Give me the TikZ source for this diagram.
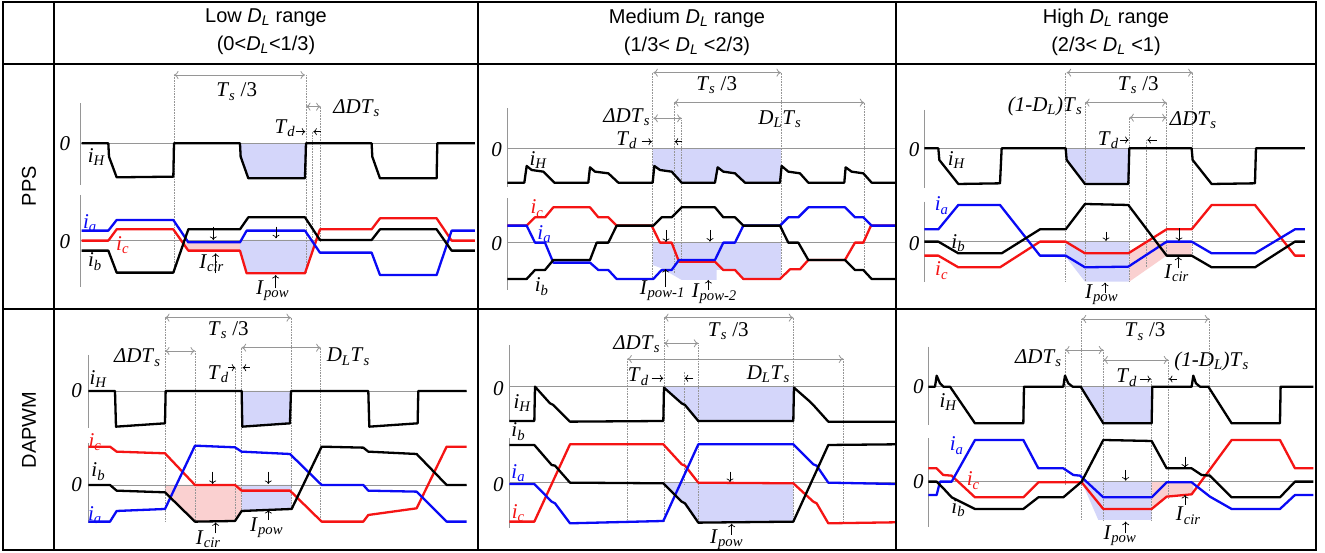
\documentclass[tikz,border=0pt]{standalone}
\usepackage{fontspec}
\setmainfont{Liberation Serif}
\newfontfamily\hdrfont{Liberation Sans}
\usetikzlibrary{arrows.meta}
\definecolor{wblue}{RGB}{10,10,245}
\definecolor{wred}{RGB}{245,20,20}
\definecolor{guidegray}{RGB}{150,150,150}
\definecolor{powshade}{RGB}{212,214,250}
\definecolor{cirshade}{RGB}{250,208,208}
\newcommand\sym[2]{\textit{#1}\textsubscript{\textit{#2}}}
\tikzset{
  frame/.style = {
    line width=2.2pt
  },
  wave/.style = {
    line width=2.3pt,
    line join=round
  },
  zeroline/.style = {
    line width=0.8pt,
    guidegray
  },
  guide/.style = {
    line width=0.6pt,
    guidegray,
    densely dotted
  },
  dimline/.style = {
    line width=0.8pt,
    guidegray,
    {To[length=4.5pt,width=8pt]}-{To[length=4.5pt,width=8pt]}
  },
  tick arrow/.style = {
    line width=0.7pt,
    -{To[length=3.5pt,width=7pt]}
  },
  powfill/.style = {
    fill=powshade
  },
  cirfill/.style = {
    fill=cirshade
  },
  header class/.style={
    every text node part/.style={
      align=center,
      font={\hdrfont\fontsize{20}{28}\selectfont}
    }
  },
  label class/.style={
    every text node part/.style={
      font={\fontsize{21}{23}\selectfont}
    }
  },
  cell/.style={
    x=0.3333pt,
    y=-0.3333pt,
    label class
  },
}

\begin{document}
\begin{tikzpicture}[x=1pt,y=-1pt]
  \useasboundingbox (0,0) rectangle (1325,553);
  \fill[white] (0,0) rectangle (1325,553);

  % headers
  \node[header class] (hlow) at (266,32) {Low \sym{D}{L} range\\(0<\sym{D}{L}<1/3)};
  \node[header class] (hmed) at (687,32) {Medium \sym{D}{L} range\\(1/3< \sym{D}{L} <2/3)};
  \node[header class] (hhigh) at (1106,32) {High \sym{D}{L} range\\(2/3< \sym{D}{L} <1)};
  \node[header class,rotate=90] (hpps) at (29,186) {PPS};
  \node[header class,rotate=90] (hdapwm) at (29,430) {DAPWM};

  %%%%% PPS, low
  \begin{scope}[shift={(50,60)},cell]
    \fill[powfill] (570,250) -- (572,290) -- (595,355) -- (765,355) -- (765,250) -- cycle;
    \fill[cirfill] (400,547) -- (570,547) -- (570,572) -- (415,572) -- cycle;
    \fill[powfill] (570,540) -- (570,572) -- (590,640) -- (765,640) -- (799,540) -- cycle;
    \draw[zeroline] (90,130) -- (90,375) (90,405) -- (90,680);
    \draw[zeroline] (90,250) -- (1275,250) (90,540) -- (1275,540);
    \foreach \x/\ya/\yb in {372/45/620, 768/45/640, 788/215/545, 812/140/545}
      \draw[guide] (\x,\ya) -- (\x,\yb);
    \draw[wave] plot coordinates {(95,250) (175,250) (177,290) (200,352) (370,350) (372,250) (570,250) (572,290) (595,355) (765,355) (768,250) (965,250) (967,290) (990,355) (1160,355) (1162,250) (1275,250)};
    \draw[wave,wred] plot coordinates {(95,542) (175,542) (200,508) (370,508) (415,572) (570,572) (590,640) (765,640) (810,508) (965,508) (990,475) (1160,475) (1205,542) (1275,542)};
    \draw[wave,wblue] plot coordinates {(95,512) (175,512) (200,480) (370,480) (415,547) (570,547) (590,512) (765,512) (810,578) (965,578) (990,645) (1160,645) (1205,512) (1275,512)};
    \draw[wave] plot coordinates {(95,572) (175,572) (200,638) (370,638) (415,508) (570,508) (595,472) (765,472) (810,540) (965,540) (990,508) (1160,508) (1205,572) (1275,572)};
    \draw[dimline] (372,45) -- (765,45);
    \draw[dimline] (768,140) -- (812,140);
    \draw[tick arrow] (738,215) -- (766,215);
    \draw[tick arrow] (812,215) -- (790,215);
    \draw[tick arrow] (490,500) -- (490,540);
    \draw[tick arrow] (678,500) -- (678,535);
    \draw[tick arrow] (497,640) -- (497,580);
    \draw[tick arrow] (677,685) -- (677,645);
    \node (c1za) at (45,250) {\textit{0}};
    \node (c1zb) at (45,545) {\textit{0}};
    \node (c1ih) at (140,292) {\sym{i}{H}};
    \node[wblue] (c1ia) at (120,490) {\sym{i}{a}};
    \node[wred] (c1ic) at (218,555) {\sym{i}{c}};
    \node (c1ib) at (135,605) {\sym{i}{b}};
    \node (c1ts) at (560,95) {\sym{T}{s} /3};
    \node (c1dd) at (920,145) {\sym{ΔDT}{s}};
    \node (c1td) at (705,205) {\sym{T}{d}};
    \node (c1cir) at (485,610) {\sym{I}{cir}};
    \node (c1pow) at (668,692) {\sym{I}{pow}};
  \end{scope}

  %%%%% PPS, medium
  \begin{scope}[shift={(475,60)},cell]
    \fill[powfill] (533,265) -- (533,368) -- (538,318) -- (555,330) -- (590,335) -- (620,368) -- (720,368) -- (728,322) -- (745,335) -- (780,340) -- (810,368) -- (918,368) -- (918,265) -- cycle;
    \fill[powfill] (533,548) -- (533,615) -- (560,625) -- (620,660) -- (725,660) -- (725,630) -- (780,630) -- (805,657) -- (918,657) -- (918,548) -- cycle;
    \draw[zeroline] (97,145) -- (97,380) (97,415) -- (97,690);
    \draw[zeroline] (97,265) -- (1260,265) (97,548) -- (1260,548);
    \foreach \x/\ya/\yb in {533/38/660, 597/128/640, 620/175/600, 918/38/657, 1168/128/640}
      \draw[guide] (\x,\ya) -- (\x,\yb);
    \draw[wave] plot coordinates {(97,368) (148,368) (155,318) (170,330) (205,335) (238,368) (340,368) (345,322) (360,335) (400,340) (430,368) (533,368) (538,318) (555,330) (590,335) (620,368) (720,368) (728,322) (745,335) (780,340) (810,368) (915,368) (920,318) (940,335) (975,340) (1000,368) (1108,368) (1112,322) (1130,335) (1165,340) (1190,368) (1260,368)};
    \draw[wave,wred] plot coordinates {(97,497) (155,497) (180,472) (210,472) (235,442) (345,442) (370,472) (400,472) (425,497) (530,497) (555,548) (590,548) (612,605) (720,605) (745,630) (780,630) (805,657) (915,657) (945,628) (975,628) (1000,600) (1110,600) (1140,548) (1165,548) (1188,497) (1260,497)};
    \draw[wave,wblue] plot coordinates {(97,497) (155,497) (180,548) (210,548) (235,608) (345,608) (370,630) (400,630) (425,657) (535,657) (560,630) (590,630) (612,600) (720,600) (745,548) (780,548) (805,497) (915,497) (940,472) (970,472) (1000,442) (1110,442) (1140,472) (1165,472) (1190,497) (1260,497)};
    \draw[wave] plot coordinates {(97,657) (155,657) (180,630) (210,630) (235,600) (345,600) (365,548) (400,548) (425,497) (535,497) (560,472) (590,472) (620,442) (720,442) (745,472) (780,472) (805,497) (915,497) (940,548) (970,548) (1000,600) (1110,600) (1140,630) (1165,630) (1190,657) (1260,657)};
    \draw[dimline] (535,38) -- (918,38);
    \draw[dimline] (597,128) -- (1168,128);
    \draw[dimline] (535,175) -- (620,175);
    \draw[tick arrow] (500,245) -- (531,245);
    \draw[tick arrow] (622,245) -- (599,245);
    \draw[tick arrow] (573,510) -- (573,546);
    \draw[tick arrow] (705,510) -- (705,545);
    \draw[tick arrow] (572,680) -- (572,627);
    \draw[tick arrow] (700,690) -- (700,660);
    \node (c2za) at (65,268) {\textit{0}};
    \node (c2zb) at (65,550) {\textit{0}};
    \node (c2ih) at (190,300) {\sym{i}{H}};
    \node[wred] (c2ic) at (186,446) {\sym{i}{c}};
    \node[wblue] (c2ia) at (208,522) {\sym{i}{a}};
    \node (c2ib) at (200,680) {\sym{i}{b}};
    \node (c2ts) at (725,75) {\sym{T}{s} /3};
    \node (c2dl) at (915,178) {\sym{D}{L}\sym{T}{s}};
    \node (c2dd) at (455,172) {\sym{ΔDT}{s}};
    \node (c2td) at (455,240) {\sym{T}{d}};
    \node (c2pa) at (562,692) {\sym{I}{pow-1}};
    \node (c2pb) at (718,700) {\sym{I}{pow-2}};
  \end{scope}

  %%%%% PPS, high
  \begin{scope}[shift={(890,60)},cell]
    \fill[powfill] (527,265) -- (530,300) -- (585,372) -- (715,372) -- (718,265) -- cycle;
    \fill[powfill] (527,545) -- (718,545) -- (718,665) -- (585,665) -- (527,590) -- cycle;
    \fill[cirfill] (718,580) -- (770,545) -- (905,545) -- (905,587) -- (830,587) -- (718,665) -- cycle;
    \draw[zeroline] (103,150) -- (103,385) (103,425) -- (103,665);
    \draw[zeroline] (103,265) -- (1245,265) (103,545) -- (1245,545);
    \foreach \x/\ya/\yb in {527/38/665, 585/128/665, 718/173/665, 770/240/620, 830/128/587, 908/38/587}
      \draw[guide] (\x,\ya) -- (\x,\yb);
    \draw[wave] plot coordinates {(103,265) (145,265) (148,300) (205,372) (330,370) (335,265) (527,265) (530,300) (585,372) (715,372) (718,265) (905,265) (908,300) (965,372) (1095,370) (1098,265) (1245,265)};
    \draw[wave,wred] plot coordinates {(103,587) (145,587) (205,622) (330,622) (450,545) (527,545) (585,580) (715,580) (830,508) (905,508) (965,435) (1095,435) (1215,587) (1245,587)};
    \draw[wave,wblue] plot coordinates {(103,508) (145,508) (205,435) (330,435) (450,587) (527,587) (585,622) (715,620) (830,545) (905,545) (965,580) (1095,580) (1215,508) (1245,508)};
    \draw[wave] plot coordinates {(103,545) (145,545) (205,580) (335,580) (450,508) (527,508) (585,432) (715,435) (830,587) (905,587) (965,622) (1095,622) (1215,545) (1245,545)};
    \draw[dimline] (530,38) -- (908,38);
    \draw[dimline] (585,128) -- (830,128);
    \draw[dimline] (718,173) -- (830,173);
    \draw[tick arrow] (690,240) -- (716,240);
    \draw[tick arrow] (800,240) -- (772,240);
    \draw[tick arrow] (648,515) -- (648,543);
    \draw[tick arrow] (867,505) -- (867,543);
    \draw[tick arrow] (645,700) -- (645,668);
    \draw[tick arrow] (865,625) -- (865,590);
    \node (c3za) at (72,268) {\textit{0}};
    \node (c3zb) at (72,550) {\textit{0}};
    \node (c3ih) at (200,300) {\sym{i}{H}};
    \node[wblue] (c3ia) at (155,437) {\sym{i}{a}};
    \node (c3ib) at (205,550) {\sym{i}{b}};
    \node[wred] (c3ic) at (155,632) {\sym{i}{c}};
    \node (c3ts) at (745,75) {\sym{T}{s} /3};
    \node (c3dl) at (465,138) {\textit{(1-D}\textsubscript{\textit{L}}\textit{)}\sym{T}{s}};
    \node (c3dd) at (910,180) {\sym{ΔDT}{s}};
    \node (c3td) at (655,240) {\sym{T}{d}};
    \node (c3pow) at (635,705) {\sym{I}{pow}};
    \node (c3cir) at (860,640) {\sym{I}{cir}};
  \end{scope}

  %%%%% DAPWM, low
  \begin{scope}[shift={(50,305)},cell]
    \fill[powfill] (577,258) -- (577,365) -- (720,355) -- (723,258) -- cycle;
    \fill[cirfill] (345,540) -- (575,540) -- (575,620) -- (555,648) -- (435,650) -- (345,560) -- cycle;
    \fill[powfill] (575,540) -- (725,540) -- (725,612) -- (575,618) -- cycle;
    \draw[zeroline] (115,150) -- (115,370) (115,415) -- (115,655);
    \draw[zeroline] (115,258) -- (1250,258) (115,540) -- (1250,540);
    \foreach \x/\ya/\yb in {345/38/650, 435/138/650, 557/188/650, 575/128/620, 723/38/612, 812/128/650}
      \draw[guide] (\x,\ya) -- (\x,\yb);
    \draw[wave] plot coordinates {(115,258) (195,258) (198,365) (345,355) (347,258) (575,258) (577,365) (720,355) (723,258) (955,258) (958,365) (1103,355) (1105,258) (1250,258)};
    \draw[wave,wred] plot coordinates {(115,425) (180,425) (200,440) (345,445) (435,540) (555,540) (575,557) (720,557) (815,650) (940,650) (955,630) (1100,610) (1190,425) (1250,425)};
    \draw[wave,wblue] plot coordinates {(115,650) (180,650) (200,618) (345,612) (435,422) (555,427) (575,440) (720,447) (815,540) (940,540) (955,557) (1100,560) (1190,650) (1250,650)};
    \draw[wave] plot coordinates {(115,540) (180,540) (200,557) (345,562) (435,650) (555,648) (575,618) (725,612) (815,425) (940,428) (955,440) (1100,447) (1190,540) (1250,540)};
    \draw[dimline] (345,38) -- (723,38);
    \draw[dimline] (345,138) -- (435,138);
    \draw[dimline] (575,128) -- (812,128);
    \draw[tick arrow] (535,188) -- (556,188);
    \draw[tick arrow] (600,188) -- (578,188);
    \draw[tick arrow] (488,500) -- (488,537);
    \draw[tick arrow] (655,500) -- (655,537);
    \draw[tick arrow] (497,685) -- (497,652);
    \draw[tick arrow] (655,645) -- (655,615);
    \node (c4za) at (80,258) {\textit{0}};
    \node (c4zb) at (80,540) {\textit{0}};
    \node (c4ih) at (145,222) {\sym{i}{H}};
    \node[wred] (c4ic) at (135,412) {\sym{i}{c}};
    \node (c4ib) at (145,500) {\sym{i}{b}};
    \node[wblue] (c4ia) at (135,630) {\sym{i}{a}};
    \node (c4ts) at (535,75) {\sym{T}{s} /3};
    \node (c4dd) at (262,158) {\sym{ΔDT}{s}};
    \node (c4dl) at (895,155) {\sym{D}{L}\sym{T}{s}};
    \node (c4td) at (505,208) {\sym{T}{d}};
    \node (c4cir) at (475,702) {\sym{I}{cir}};
    \node (c4pow) at (650,668) {\sym{I}{pow}};
  \end{scope}

  %%%%% DAPWM, medium
  \begin{scope}[shift={(475,305)},cell]
    \fill[powfill] (567,245) -- (955,245) -- (955,348) -- (670,348) -- (630,300) -- (620,295) -- (567,248) -- cycle;
    \fill[powfill] (565,533) -- (955,533) -- (955,650) -- (670,653) -- (620,590) -- (565,535) -- cycle;
    \draw[zeroline] (103,120) -- (103,350) (103,400) -- (103,670);
    \draw[zeroline] (103,245) -- (1260,245) (103,533) -- (1260,533);
    \foreach \x/\ya/\yb in {457/162/650, 567/38/650, 627/200/540, 670/115/653, 955/38/650, 1105/162/655}
      \draw[guide] (\x,\ya) -- (\x,\yb);
    \draw[wave] plot coordinates {(103,348) (178,348) (180,245) (225,295) (235,300) (285,350) (565,348) (567,248) (620,295) (630,300) (670,348) (955,348) (957,248) (1005,290) (1015,300) (1060,350) (1260,350)};
    \draw[wave,wred] plot coordinates {(103,650) (178,650) (285,418) (565,418) (620,478) (630,482) (670,533) (955,535) (1015,590) (1025,595) (1060,655) (1260,652)};
    \draw[wave,wblue] plot coordinates {(103,537) (178,537) (230,590) (240,595) (285,655) (565,648) (670,418) (955,418) (1015,478) (1025,482) (1060,533) (1260,537)};
    \draw[wave] plot coordinates {(103,420) (178,420) (230,480) (240,482) (285,533) (565,535) (620,590) (630,595) (670,653) (955,650) (1060,420) (1260,418)};
    \draw[dimline] (567,38) -- (955,38);
    \draw[dimline] (567,115) -- (670,115);
    \draw[dimline] (457,162) -- (1105,162);
    \draw[tick arrow] (530,220) -- (565,220);
    \draw[tick arrow] (655,220) -- (629,220);
    \draw[tick arrow] (765,500) -- (765,531);
    \draw[tick arrow] (770,690) -- (770,656);
    \node (c5za) at (70,250) {\textit{0}};
    \node (c5zb) at (70,540) {\textit{0}};
    \node (c5ih) at (142,295) {\sym{i}{H}};
    \node (c5ib) at (130,380) {\sym{i}{b}};
    \node[wblue] (c5ia) at (130,505) {\sym{i}{a}};
    \node[wred] (c5ic) at (130,625) {\sym{i}{c}};
    \node (c5ts) at (760,78) {\sym{T}{s} /3};
    \node (c5dd) at (485,118) {\sym{ΔDT}{s}};
    \node (c5dl) at (880,208) {\sym{D}{L}\sym{T}{s}};
    \node (c5td) at (490,215) {\sym{T}{d}};
    \node (c5pow) at (755,705) {\sym{I}{pow}};
  \end{scope}

  %%%%% DAPWM, high
  \begin{scope}[shift={(890,305)},cell]
    \fill[powfill] (572,245) -- (640,355) -- (785,355) -- (787,245) -- cycle;
    \fill[powfill] (575,530) -- (785,530) -- (785,645) -- (625,645) -- cycle;
    \fill[cirfill] (785,530) -- (910,530) -- (910,568) -- (830,575) -- (785,612) -- cycle;
    \draw[zeroline] (115,125) -- (115,360) (115,400) -- (115,665);
    \draw[zeroline] (115,245) -- (1270,245) (115,530) -- (1270,530);
    \foreach \x/\ya/\yb in {525/135/540, 575/42/645, 640/135/645, 785/222/645, 835/165/580, 958/42/560}
      \draw[guide] (\x,\ya) -- (\x,\yb);
    \draw[wave] plot coordinates {(115,245) (135,245) (140,212) (150,235) (160,245) (180,245) (255,355) (400,355) (402,245) (520,245) (525,212) (535,235) (548,245) (572,245) (640,355) (785,355) (787,245) (905,245) (910,212) (918,235) (930,245) (955,245) (1025,355) (1170,355) (1172,245) (1270,245)};
    \draw[wave,wred] plot coordinates {(115,490) (140,490) (160,510) (185,512) (255,577) (400,577) (445,532) (575,532) (640,612) (785,612) (830,575) (905,568) (1025,405) (1170,405) (1215,490) (1270,490)};
    \draw[wave,wblue] plot coordinates {(115,570) (140,570) (150,530) (185,530) (255,405) (400,405) (445,490) (520,490) (550,510) (570,512) (640,577) (785,577) (830,532) (905,532) (960,575) (1025,612) (1170,612) (1215,570) (1270,570)};
    \draw[wave] plot coordinates {(115,530) (140,530) (160,550) (185,577) (255,612) (400,612) (445,577) (520,577) (575,530) (640,405) (785,408) (830,490) (905,490) (935,510) (960,512) (1025,577) (1170,577) (1215,530) (1270,530)};
    \draw[dimline] (575,42) -- (958,42);
    \draw[dimline] (525,135) -- (640,135);
    \draw[dimline] (640,165) -- (835,165);
    \draw[tick arrow] (750,222) -- (783,222);
    \draw[tick arrow] (860,222) -- (837,222);
    \draw[tick arrow] (707,495) -- (707,527);
    \draw[tick arrow] (885,455) -- (885,488);
    \draw[tick arrow] (707,685) -- (707,650);
    \draw[tick arrow] (885,600) -- (885,570);
    \node (c6za) at (85,245) {\textit{0}};
    \node (c6zb) at (85,530) {\textit{0}};
    \node (c6ih) at (175,290) {\sym{i}{H}};
    \node[wblue] (c6ia) at (200,422) {\sym{i}{a}};
    \node[wred] (c6ic) at (250,527) {\sym{i}{c}};
    \node (c6ib) at (205,610) {\sym{i}{b}};
    \node (c6ts) at (765,80) {\sym{T}{s} /3};
    \node (c6dd) at (445,160) {\sym{ΔDT}{s}};
    \node (c6dl) at (965,170) {\textit{(1-D}\textsubscript{\textit{L}}\textit{)}\sym{T}{s}};
    \node (c6td) at (710,218) {\sym{T}{d}};
    \node (c6pow) at (690,692) {\sym{I}{pow}};
    \node (c6cir) at (895,632) {\sym{I}{cir}};
  \end{scope}

  % table rules
  \draw[frame] (3,2) rectangle (1316,550);
  \draw[frame] (3,64) -- (1316,64);
  \draw[frame] (3,309) -- (1316,309);
  \foreach \x in {54,478,896}
    \draw[frame] (\x,2) -- (\x,550);

\end{tikzpicture}
\end{document}
